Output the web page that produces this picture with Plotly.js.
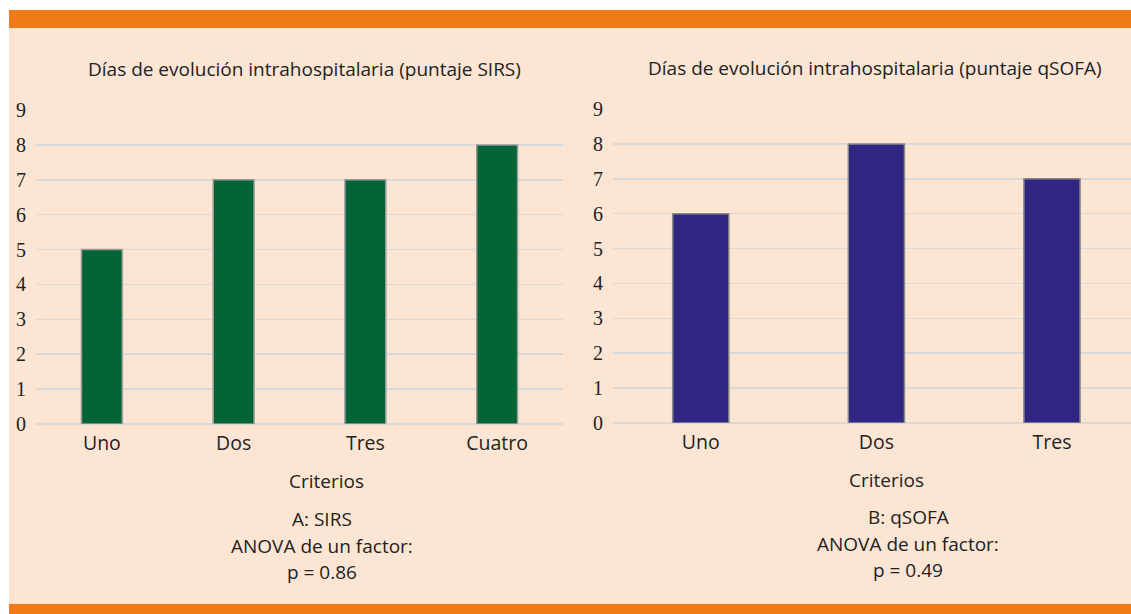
<!DOCTYPE html>
<html>
<head>
<meta charset="utf-8">
<script src="https://cdn.plot.ly/plotly-3.0.1.min.js"></script>
<style>html,body{margin:0;padding:0;background:#fff;}#chart{width:1131px;height:614px;}</style>
</head>
<body>
<div id="chart"></div>
<script>
const W = 1131, H = 614;
const sirsCategories = ["Uno", "Dos", "Tres", "Cuatro"];
const sirsDays = [5, 7, 7, 8];
const qsofaCategories = ["Uno", "Dos", "Tres"];
const qsofaDays = [6, 8, 7];
const yTicks = [0, 1, 2, 3, 4, 5, 6, 7, 8, 9];
const titleSirs = "Días de evolución intrahospitalaria (puntaje SIRS)";
const titleQsofa = "Días de evolución intrahospitalaria (puntaje qSOFA)";
const xTitle = "Criterios";
const noteSirs = ["A: SIRS", "ANOVA de un factor:", "p = 0.86"];
const noteQsofa = ["B: qSOFA", "ANOVA de un factor:", "p = 0.49"];

const px = v => v / W;
const py = v => 1 - v / H;
const SANS = "'Open Sans', 'Noto Sans', sans-serif";
const SERIF = "'Liberation Serif', 'DejaVu Serif', serif";

const traces = [
  {type: "bar", x: sirsCategories, y: sirsDays, xaxis: "x", yaxis: "y", width: 0.31,
   marker: {color: "#036535", line: {color: "#9a9a9a", width: 1.5}}, hoverinfo: "x+y"},
  {type: "bar", x: qsofaCategories, y: qsofaDays, xaxis: "x2", yaxis: "y2", width: 0.32,
   marker: {color: "#312783", line: {color: "#8a8a8a", width: 1.5}}, hoverinfo: "x+y"}
];

const yBase = {
  range: [0, 9], tickvals: yTicks, ticktext: yTicks.map(String),
  showgrid: true, gridcolor: "#d9d9d9", gridwidth: 1.6,
  zeroline: true, zerolinecolor: "#d9d9d9", zerolinewidth: 1.6,
  showline: false, ticks: "outside", ticklen: 5, tickcolor: "rgba(0,0,0,0)",
  tickfont: {family: SERIF, size: 20, color: "#222"}, fixedrange: true
};
const xBase = {
  type: "category", showgrid: false, zeroline: false, showline: false,
  ticks: "outside", ticklen: 2, tickcolor: "rgba(0,0,0,0)",
  tickfont: {family: SANS, size: 19.5, color: "#222"}, fixedrange: true
};

function ann(text, x, y, size) {
  return {text: text, x: px(x), y: py(y), xref: "paper", yref: "paper",
          showarrow: false, xanchor: "center", yanchor: "middle",
          font: {family: SANS, size: size, color: "#222"}};
}

const FS = 19;
const annotations = [
  ann(titleSirs, 304, 69, FS),
  ann(titleQsofa, 875, 68, FS),
  ann(xTitle, 326, 481, FS),
  ann(xTitle, 886, 480, FS)
];
const gapN = 26.5;
noteSirs.forEach((t, i) => annotations.push(ann(t, 322, 519 + i * gapN, FS)));
noteQsofa.forEach((t, i) => annotations.push(ann(t, 908, 517 + i * gapN, FS)));

const shapes = [
  {type: "rect", xref: "paper", yref: "paper", x0: px(9), x1: 1, y0: 0, y1: py(10), fillcolor: "#fde5d4", line: {width: 0}, layer: "below"},
  {type: "rect", xref: "paper", yref: "paper", x0: px(9), x1: 1, y0: py(28), y1: py(10), fillcolor: "#f07c17", line: {width: 0}, layer: "below"},
  {type: "rect", xref: "paper", yref: "paper", x0: px(9), x1: 1, y0: 0, y1: py(604), fillcolor: "#f07c17", line: {width: 0}, layer: "below"}
];

const layout = {
  width: W, height: H, margin: {l: 0, r: 0, t: 0, b: 0},
  paper_bgcolor: "#ffffff", plot_bgcolor: "rgba(0,0,0,0)",
  showlegend: false, bargap: 0.5,
  xaxis: Object.assign({}, xBase, {domain: [px(36), px(563)], anchor: "y", range: [-0.5, 3.5]}),
  yaxis: Object.assign({}, yBase, {domain: [py(424), py(110)], anchor: "x"}),
  xaxis2: Object.assign({}, xBase, {domain: [px(613), 1], anchor: "y2", range: [-0.5, 2.45]}),
  yaxis2: Object.assign({}, yBase, {domain: [py(423), py(109)], anchor: "x2"}),
  annotations: annotations, shapes: shapes
};

Plotly.newPlot("chart", traces, layout, {displayModeBar: false, staticPlot: true});
</script>
</body>
</html>
